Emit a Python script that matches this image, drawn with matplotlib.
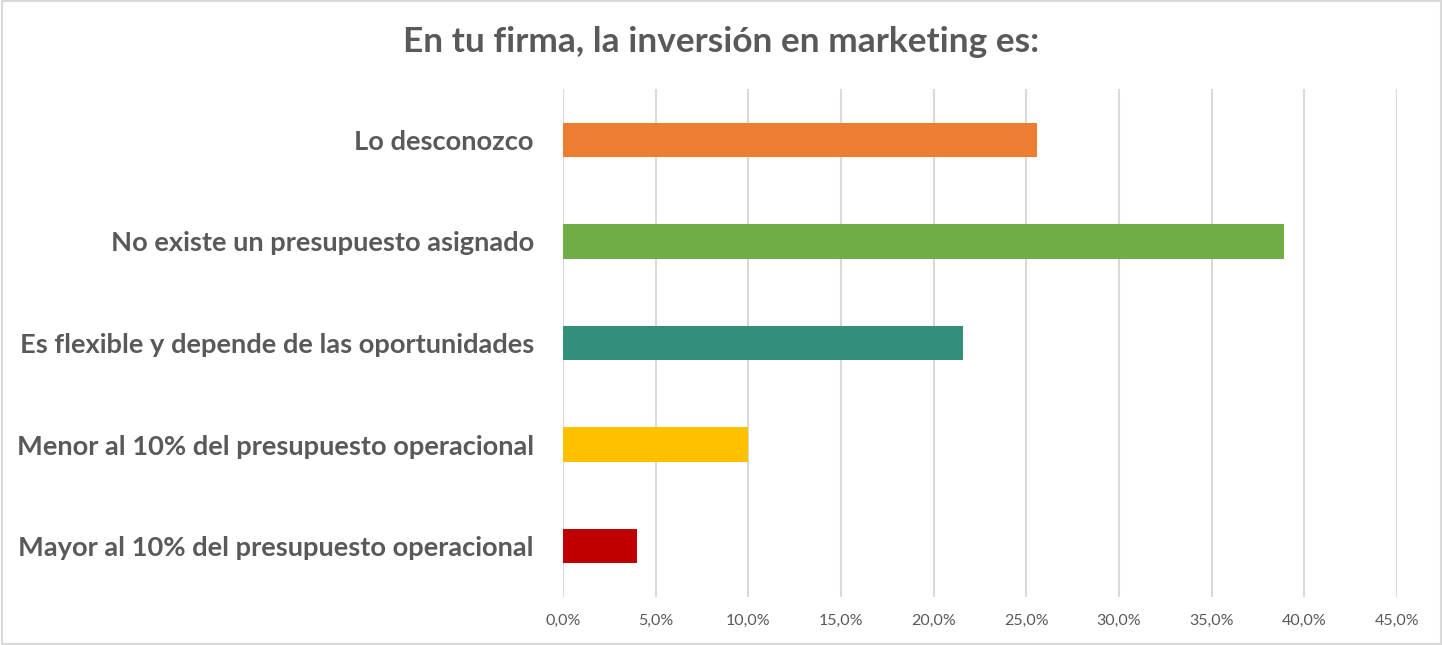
import matplotlib
matplotlib.use("Agg")
import matplotlib.pyplot as plt
from matplotlib.ticker import FuncFormatter
from matplotlib.patches import Rectangle

# data
categorias = [
    "Lo desconozco",
    "No existe un presupuesto asignado",
    "Es flexible y depende de las oportunidades",
    "Menor al 10% del presupuesto operacional",
    "Mayor al 10% del presupuesto operacional",
]
valores = [25.6, 38.9, 21.6, 10.0, 4.0]
colores = ["#ED7D31", "#70AD47", "#338E7A", "#FFC000", "#C00000"]
ticks = [0, 5, 10, 15, 20, 25, 30, 35, 40, 45]

plt.rcParams['font.family'] = ['Lato', 'DejaVu Sans']
gris = "#595959"

fig = plt.figure(figsize=(14.43, 6.45), dpi=100)
ax = fig.add_axes([563 / 1443, 1 - 597 / 645, (1397 - 563) / 1443, (597 - 89) / 645])

y = list(range(len(categorias)))
ax.barh(y, valores, height=0.34, color=colores, zorder=3)
ax.set_ylim(len(categorias) - 0.5, -0.5)
ax.set_xlim(0, 45)
ax.set_xticks(ticks)
ax.xaxis.set_major_formatter(FuncFormatter(lambda v, p: f"{v:.1f}%".replace(".", ",")))
ax.set_yticks(y)
ax.set_yticklabels(categorias, fontsize=19.6, fontweight="bold", color=gris)
ax.tick_params(axis="x", length=0, labelsize=11.5, labelcolor=gris, pad=12)
ax.tick_params(axis="y", length=0, pad=21)
ax.grid(axis="x", color="#D9D9D9", linewidth=1.5, zorder=0)
for s in ax.spines.values():
    s.set_visible(False)

fig.text(0.5, 1 - 42 / 645, "En tu firma, la inversión en marketing es:", ha="center", va="center",
         fontsize=25.4, fontweight="bold", color=gris)
fig.patches.append(Rectangle((0.0015, 0.002), 0.997, 0.996, transform=fig.transFigure,
                             fill=False, edgecolor="#D9D9D9", linewidth=1.5))

fig.savefig("out.png", dpi=100)
